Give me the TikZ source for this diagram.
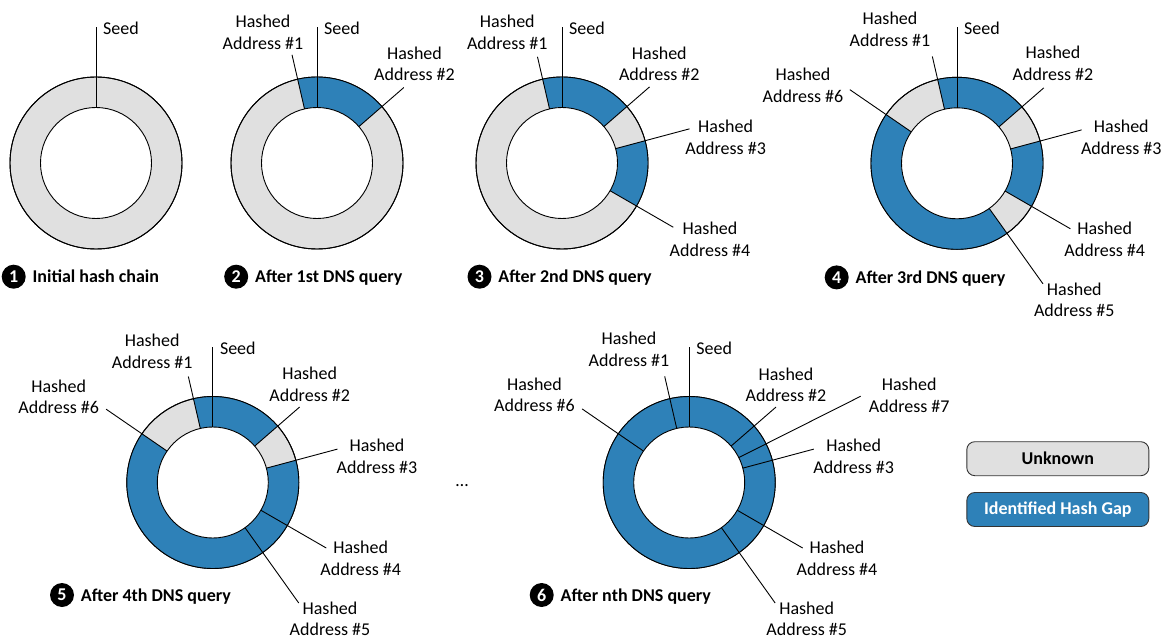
\documentclass[tikz,border=0pt]{standalone}
\usepackage{fontspec}
\setmainfont{Carlito}
\usetikzlibrary{calc}
\definecolor{unk}{HTML}{E0E0E0}
\definecolor{gapc}{HTML}{2E81B8}
\newcommand\Rout{86}
\newcommand\Rin{55.5}
\newcommand\mkring[2]{%
  \coordinate (#1) at (#2);
  \draw[ringline, fill=unk] (#1) circle[radius=\Rout];}
\newcommand\mkgap[3]{%
  \fill[gapc] ($(#1)+(#2:\Rout)$) arc[start angle=#2, end angle=#3, radius=\Rout]
    -- ($(#1)+(#3:\Rin)$) arc[start angle=#3, end angle=#2, radius=\Rin] -- cycle;}
\newcommand\mkhole[1]{%
  \draw[ringline, fill=white] (#1) circle[radius=\Rin];
  \draw[ringline] (#1) circle[radius=\Rout];}
\newcommand\mklead[4]{%
  \coordinate (#1-#2a) at ($(#1)+(#3:\Rin)$);
  \coordinate (#1-#2b) at ($(#1)+(#3:#4)$);
  \draw[ringline] (#1-#2a) -- (#1-#2b);}
\newcommand\mklab[4]{%
  \node[lbl] (#1-#2t) at ($(#1)+(#3)$) {#4};}
\newcommand\mkseed[1]{%
  \mklead{#1}{s}{90}{136}
  \node[lbl, anchor=west] (#1-st) at ($(#1)+(7,134.5)$) {Seed};}
\newcommand\mkcap[4]{% name, circle pos, number, text
  \node[numc] (#1n) at (#2) {#3};
  \node[captxt, anchor=base west] (#1t) at ($(#1n.east)+(6.5,-6)$) {#4};}
\begin{document}
\begin{tikzpicture}[x=1pt, y=1pt,
  ringline/.style={line width=0.9pt, draw=black},
  lbl/.style={font=\fontsize{18}{21.5}\selectfont, align=center, inner sep=0pt},
  captxt/.style={font=\fontsize{18}{21.5}\selectfont\bfseries, inner sep=0pt},
  numc/.style={circle, fill=black, text=white, minimum size=24pt, inner sep=0pt,
    font=\fontsize{18}{18}\selectfont\bfseries},
  legbox/.style={draw=black!80, line width=0.9pt, rounded corners=8pt,
    minimum width=182pt, minimum height=34pt, inner sep=0pt,
    font=\fontsize{18}{21.5}\selectfont\bfseries}]
\useasboundingbox (0,0) rectangle (1167,-639);

% ---------- Donut 1 ----------
\mkring{d1}{96,-163}
\mkhole{d1}
\mkseed{d1}
\mkcap{c1}{13.7,-276.7}{1}{Initial hash chain}

% ---------- Donut 2 ----------
\mkring{d2}{317,-163}
\mkgap{d2}{41}{103}
\mkhole{d2}
\mkseed{d2}
\mklead{d2}{1}{103}{111}
\mklead{d2}{2}{41}{115}
\mklab{d2}{1}{-54,130.5}{Hashed\\Address \#1}
\mklab{d2}{2}{97.5,99.3}{Hashed\\Address \#2}
\mkcap{c2}{236.2,-276.7}{2}{After 1st DNS query}

% ---------- Donut 3 ----------
\mkring{d3}{562,-163}
\mkgap{d3}{41}{103}
\mkgap{d3}{-30}{15}
\mkhole{d3}
\mkseed{d3}
\mklead{d3}{1}{103}{109}
\mklead{d3}{2}{41}{116}
\mklead{d3}{3}{15}{132}
\mklead{d3}{4}{-30}{128.5}
\mklab{d3}{1}{-54.7,130.5}{Hashed\\Address \#1}
\mklab{d3}{2}{97.3,99.2}{Hashed\\Address \#2}
\mklab{d3}{3}{163.6,25.5}{Hashed\\Address \#3}
\mklab{d3}{4}{148,-76.2}{Hashed\\Address \#4}
\mkcap{c3}{479.5,-276.7}{3}{After 2nd DNS query}

% ---------- Donut 4 ----------
\mkring{d4}{957,-163.3}
\mkgap{d4}{41}{103}
\mkgap{d4}{-30}{15}
\mkgap{d4}{145.5}{305.5}
\mkhole{d4}
\mkseed{d4}
\mklead{d4}{1}{103}{109.6}
\mklead{d4}{2}{41}{115}
\mklead{d4}{3}{15}{129}
\mklead{d4}{4}{-30}{131}
\mklead{d4}{5}{-54.5}{148}
\mklead{d4}{6}{145.5}{130}
\mklab{d4}{1}{-67,134}{Hashed\\Address \#1}
\mklab{d4}{2}{96,100}{Hashed\\Address \#2}
\mklab{d4}{3}{164.3,26.1}{Hashed\\Address \#3}
\mklab{d4}{4}{147.7,-75.9}{Hashed\\Address \#4}
\mklab{d4}{5}{117.3,-136.5}{Hashed\\Address \#5}
\mklab{d4}{6}{-154,78}{Hashed\\Address \#6}
\mkcap{c4}{836.7,-277.4}{4}{After 3rd DNS query}

% ---------- Donut 5 ----------
\mkring{d5}{212.8,-482.5}
\mkgap{d5}{41}{103}
\mkgap{d5}{145.5}{375}
\mkhole{d5}
\mkseed{d5}
\mklead{d5}{1}{103}{108.7}
\mklead{d5}{2}{41}{115}
\mklead{d5}{3}{15}{129}
\mklead{d5}{4}{-30}{131}
\mklead{d5}{5}{-54.5}{148}
\mklead{d5}{6}{145.5}{129.5}
\mklab{d5}{1}{-60.6,131.3}{Hashed\\Address \#1}
\mklab{d5}{2}{96.9,98.3}{Hashed\\Address \#2}
\mklab{d5}{3}{164.2,26.3}{Hashed\\Address \#3}
\mklab{d5}{4}{147.9,-75.8}{Hashed\\Address \#4}
\mklab{d5}{5}{117.2,-136.3}{Hashed\\Address \#5}
\mklab{d5}{6}{-154.1,85.8}{Hashed\\Address \#6}
\mkcap{c5}{62,-595}{5}{After 4th DNS query}

% ---------- Donut 6 ----------
\mkring{d6}{689.2,-482.5}
\fill[gapc] (d6) circle[radius=\Rout];
\mkhole{d6}
\mkseed{d6}
\mklead{d6}{1}{103}{109}
\mklead{d6}{2}{41}{115}
\mklead{d6}{7}{26.7}{192}
\mklead{d6}{3}{15}{129}
\mklead{d6}{4}{-30}{131}
\mklead{d6}{5}{-54.5}{148}
\mklead{d6}{6}{145.5}{130}
\mklab{d6}{1}{-60.2,133.3}{Hashed\\Address \#1}
\mklab{d6}{2}{96.8,97.8}{Hashed\\Address \#2}
\mklab{d6}{7}{220,87.3}{Hashed\\Address \#7}
\mklab{d6}{3}{164.5,26}{Hashed\\Address \#3}
\mklab{d6}{4}{147.8,-75.8}{Hashed\\Address \#4}
\mklab{d6}{5}{117.5,-136.2}{Hashed\\Address \#5}
\mklab{d6}{6}{-154.7,87.5}{Hashed\\Address \#6}
\mkcap{c6}{541.7,-595}{6}{After nth DNS query}

% ---------- ellipsis ----------
\node[lbl] (dots) at (462,-486) {\dots};

% ---------- legend ----------
\node[legbox, fill=unk] (lu) at (1057.8,-458.7) {Unknown};
\node[legbox, fill=gapc, text=white] (lg) at (1057.8,-509.5) {Identified Hash Gap};
\end{tikzpicture}
\end{document}
